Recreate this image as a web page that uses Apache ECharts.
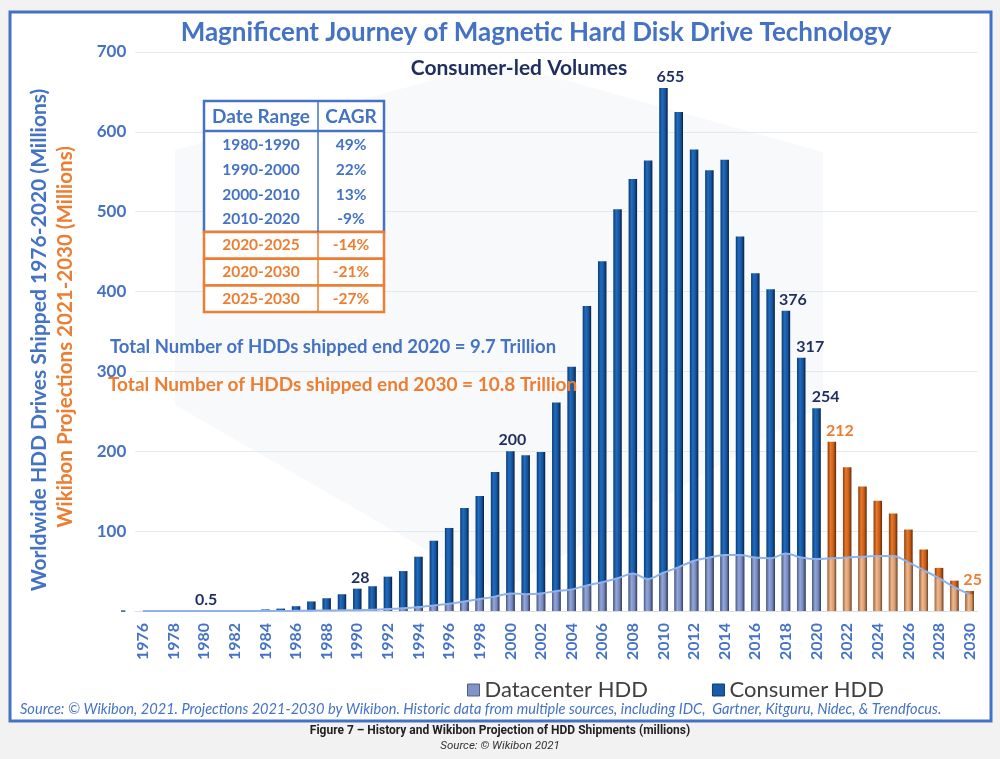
<!DOCTYPE html>
<html><head><meta charset="utf-8">
<script src="https://cdn.jsdelivr.net/npm/echarts@6/dist/echarts.min.js"></script>
<style>html,body{margin:0;padding:0;background:#f2f2f2}#c{width:1000px;height:759px}</style>
</head><body><div id="c"></div>
<script>
// ---------------- data ----------------
const years = ['1976','1977','1978','1979','1980','1981','1982','1983','1984','1985','1986','1987','1988','1989','1990','1991','1992','1993','1994','1995','1996','1997','1998','1999','2000','2001','2002','2003','2004','2005','2006','2007','2008','2009','2010','2011','2012','2013','2014','2015','2016','2017','2018','2019','2020','2021','2022','2023','2024','2025','2026','2027','2028','2029','2030'];
// total HDD shipments (millions) = top of each bar
const totalShipments = [0.02,0.05,0.1,0.2,0.5,0.7,0.9,1.2,2,3,6,12,16,21,28,31,43,50,68,88,104,129,144,174,200,195,199,261,306,382,438,503,541,564,655,625,578,552,565,469,423,403,376,317,254,212,180,156,138,122,102,77,54,38,25];
// datacenter HDD shipments (millions) = lower part of each bar
const datacenterShipments = [0,0,0,0,0,0,0,0,0,0,0.2,0.4,0.6,0.8,1,1.5,2.5,3.5,5,7,9,12,15,18,22,21,22,25,27,32,36,41,47,40,48,55,63,67,70,70,67,66,72,67,65,66,67,68,69,69,61,51,41,30,21];
const labeledYears = ['1980','1990','2000','2010','2018','2019','2020','2021','2030'];
const lastHistoricYear = 2020;
const yTicks = [0,100,200,300,400,500,600,700];
const tableHeader = ['Date Range','CAGR'];
const tableRanges = ['1980-1990','1990-2000','2000-2010','2010-2020','2020-2025','2020-2030','2025-2030'];
const tableCagr = ['49%','22%','13%','-9%','-14%','-21%','-27%'];
const tableIsProjection = [false,false,false,false,true,true,true];
const totalHistText = 'Total Number of HDDs shipped end 2020 = 9.7 Trillion';
const totalProjText = 'Total Number of HDDs shipped end 2030 = 10.8 Trillion';

// ---------------- styles ----------------
const BLUE = '#4472C4', ORANGE = '#ED7D31', NAVY = '#1F2E5E';
const F = 'Lato, "Open Sans", sans-serif';
const LG = (stops) => new echarts.graphic.LinearGradient(0,0,1,0,stops.map((c,i)=>({offset:c[0],color:c[1]})));
const gConsumer = LG([[0,'#0c3b74'],[0.35,'#1f6cc2'],[0.7,'#165399'],[1,'#081f42']]);
const gConsumerProj = LG([[0,'#8a3c0c'],[0.35,'#e9792b'],[0.7,'#c45c18'],[1,'#5e2705']]);
const gDc = LG([[0,'#4f5e86'],[0.35,'#93a8da'],[0.7,'#7688bd'],[1,'#343e5c']]);
const gDcProj = LG([[0,'#9c6c48'],[0.35,'#f2b98e'],[0.7,'#d89a6c'],[1,'#6e4a30']]);
const labelOffset = {'1980':[2,0],'1990':[3,0],'2000':[2,0],'2010':[7,0],'2018':[7,0],'2019':[9,0],'2020':[9,0],'2021':[8,0],'2030':[3,0]};

const isProj = (y) => Number(y) > lastHistoricYear;

const totalData = years.map((y,i) => {
  const d = {value: totalShipments[i], itemStyle:{color: isProj(y) ? gConsumerProj : gConsumer}};
  if (labeledYears.includes(y)) {
    d.label = {show:true, color: isProj(y) ? ORANGE : NAVY, offset: labelOffset[y]};
  }
  return d;
});
const dcData = years.map((y,i) => ({value: datacenterShipments[i], itemStyle:{color: isProj(y) ? gDcProj : gDc}}));

// ---------------- table graphic ----------------
const tX = 204, tW = 180, tDiv = 318, tTop = 101, tHead = 131, tBlueBot = 232, oRow = 26.7;
const tableEls = [];
tableEls.push({type:'rect', shape:{x:tX,y:tTop,width:tW,height:tBlueBot-tTop}, style:{fill:'#fff',stroke:BLUE,lineWidth:2.5}, z:20});
tableEls.push({type:'line', shape:{x1:tX,y1:tHead,x2:tX+tW,y2:tHead}, style:{stroke:BLUE,lineWidth:2.5}, z:21});
tableEls.push({type:'line', shape:{x1:tDiv,y1:tTop,x2:tDiv,y2:tBlueBot}, style:{stroke:BLUE,lineWidth:1.5}, z:21});
tableEls.push({type:'text', x:261, y:117, style:{text:tableHeader[0], fill:BLUE, font:'bold 19px '+F, textAlign:'center', textVerticalAlign:'middle'}, z:22});
tableEls.push({type:'text', x:351, y:117, style:{text:tableHeader[1], fill:BLUE, font:'bold 19px '+F, textAlign:'center', textVerticalAlign:'middle'}, z:22});
const blueRowY = [145,170,195,219];
let pk = 0;
tableRanges.forEach((r,i) => {
  let y;
  if (!tableIsProjection[i]) { y = blueRowY[i]; }
  else {
    const top = tBlueBot + pk*oRow;
    tableEls.push({type:'rect', shape:{x:tX,y:top,width:tW,height:oRow}, style:{fill:'#fff',stroke:ORANGE,lineWidth:2.5}, z:20});
    tableEls.push({type:'line', shape:{x1:tDiv,y1:top,x2:tDiv,y2:top+oRow}, style:{stroke:ORANGE,lineWidth:1.5}, z:21});
    y = top + oRow/2; pk++;
  }
  const col = tableIsProjection[i] ? ORANGE : BLUE;
  tableEls.push({type:'text', x:261, y:y, style:{text:r, fill:col, font:'bold 15.5px '+F, textAlign:'center', textVerticalAlign:'middle'}, z:22});
  tableEls.push({type:'text', x:351, y:y, style:{text:tableCagr[i], fill:col, font:'bold 15.5px '+F, textAlign:'center', textVerticalAlign:'middle'}, z:22});
});

const chart = echarts.init(document.getElementById('c'));
chart.setOption({
  backgroundColor: '#f2f2f2',
  animation: false,
  title: [
    {text:'Magnificent Journey of Magnetic Hard Disk Drive Technology', left:531, top:15, textAlign:'center',
     textStyle:{color:BLUE, fontFamily:F, fontWeight:'bold', fontSize:26}},
    {text:'Consumer-led Volumes', left:514, top:53, textAlign:'center',
     textStyle:{color:NAVY, fontFamily:F, fontWeight:'bold', fontSize:21}}
  ],
  legend: {
    left: 462, top: 674, itemWidth: 12, itemHeight: 12, itemGap: 64,
    textStyle: {fontFamily:F, fontSize:22, color:'#404040'},
    data: [{name:'Datacenter HDD', icon:'rect', itemStyle:{color:'#8293c4', borderColor:'#4f5e86', borderWidth:1}},
           {name:'Consumer HDD', icon:'rect', itemStyle:{color:'#1a5aa6', borderColor:'#0c3b74', borderWidth:1}}]
  },
  grid: {left:135.3, width:842, top:52, height:559},
  xAxis: {
    type:'category', data: years,
    axisLine:{lineStyle:{color:'#d9dde5'}}, axisTick:{show:false},
    axisLabel:{interval:1, rotate:90, color:BLUE, fontFamily:F, fontWeight:'bold', fontSize:16, margin:12}
  },
  yAxis: {
    type:'value', min:0, max:700, interval:100,
    axisLine:{show:false}, axisTick:{show:false},
    splitLine:{lineStyle:{color:'#e3e7ee', width:1}},
    axisLabel:{color:BLUE, fontFamily:F, fontWeight:'bold', fontSize:17, margin:9,
      formatter: v => yTicks.includes(v) ? (v === 0 ? '-' : String(v)) : ''}
  },
  series: [
    {name:'Consumer HDD', type:'bar', data: totalData, barWidth: 8.5, z:2,
     itemStyle:{color:gConsumer},
     label:{show:false, position:'top', distance:3, fontFamily:F, fontWeight:'bold', fontSize:16, formatter: p => String(p.value)}},
    {name:'Datacenter HDD', type:'bar', data: dcData, barWidth: 8.5, barGap:'-100%', z:3,
     itemStyle:{color:gDc}},
    {name:'dcLine', type:'line', data: datacenterShipments, smooth:0.3, symbol:'none', z:4, silent:true,
     lineStyle:{color:'#90b1ea', width:2}}
  ],
  graphic: {elements: [
    {type:'rect', shape:{x:10,y:12,width:981,height:709}, style:{fill:'#fff', stroke:BLUE, lineWidth:3}, z:-10},
    {type:'polygon', shape:{points:[[500,62],[823,152],[823,405],[500,592],[175,405],[175,150]]}, style:{fill:'#f8f9fb'}, z:-9},
    {type:'text', x:39, y:340, rotation:Math.PI/2, style:{text:'Worldwide HDD Drives Shipped 1976-2020 (Millions)', fill:BLUE, font:'bold 21px '+F, textAlign:'center', textVerticalAlign:'middle'}},
    {type:'text', x:65, y:337, rotation:Math.PI/2, style:{text:'Wikibon Projections 2021-2030 (Millions)', fill:ORANGE, font:'bold 20.5px '+F, textAlign:'center', textVerticalAlign:'middle'}},
    {type:'text', x:110, y:347, style:{text:totalHistText, fill:BLUE, font:'bold 18.5px '+F, textVerticalAlign:'middle'}, z:10},
    {type:'text', x:108, y:385, style:{text:totalProjText, fill:ORANGE, font:'bold 19px '+F, textVerticalAlign:'middle'}, z:10},
    {type:'text', x:20, y:709, style:{text:'Source: © Wikibon, 2021. Projections 2021-2030 by Wikibon. Historic data from multiple sources, including IDC,  Gartner, Kitguru, Nidec, & Trendfocus.', fill:BLUE, font:'italic 14.6px '+F, textVerticalAlign:'middle'}},
    {type:'text', x:500, y:731, style:{text:'Figure 7 – History and Wikibon Projection of HDD Shipments (millions)', fill:'#222', font:'bold 12px Roboto, sans-serif', textAlign:'center', textVerticalAlign:'middle'}},
    {type:'text', x:500, y:746, style:{text:'Source: © Wikibon 2021', fill:'#333', font:'italic 11.5px Roboto, sans-serif', textAlign:'center', textVerticalAlign:'middle'}}
  ].concat(tableEls)}
});
</script></body></html>
